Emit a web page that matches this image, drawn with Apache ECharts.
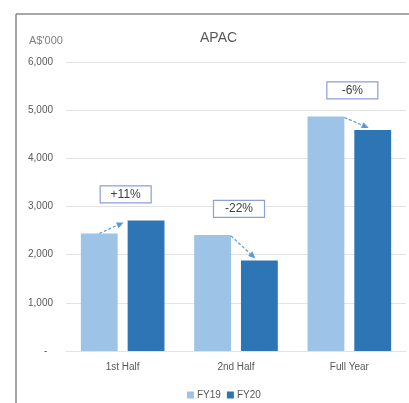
<!DOCTYPE html>
<html>
<head>
<meta charset="utf-8">
<script src="https://cdn.jsdelivr.net/npm/echarts@6/dist/echarts.min.js"></script>
<style>
  html, body { margin: 0; padding: 0; background: #ffffff; }
  #chart { width: 409px; height: 403px; }
</style>
</head>
<body>
<div id="chart"></div>
<script>
// Periods on the category axis
var periods = ['1st Half', '2nd Half', 'Full Year'];
// Revenue in A$'000
var fy19 = [2440, 2410, 4870];
var fy20 = [2710, 1880, 4590];
// Value axis tick range
var yTicks = [0, 1000, 2000, 3000, 4000, 5000, 6000];

var BAR_PCT = 0.325;
var GAP_PCT = 0.27;
var FONT = 'Liberation Sans, Arial, sans-serif';
var TEXT = '#595959';

function fmtTick(v) {
  if (v === 0) return '-  ';
  return v.toLocaleString('en-US');
}

function pctChange(a, b) {
  var p = Math.round((b / a - 1) * 100);
  return (p > 0 ? '+' : '') + p + '%';
}

// Dashed change arrows and percentage boxes, placed from the bar scale
function renderChange(params, api) {
  var idx = api.value(0);
  var a = api.value(1);
  var b = api.value(2);
  var catW = api.size([1, 0])[0];
  var barW = catW * BAR_PCT;
  var gap = barW * GAP_PCT;
  var off = (barW + gap) / 2;
  var pA = api.coord([idx, a]);
  var pB = api.coord([idx, b]);
  var xA = pA[0] - off, xB = pB[0] + off;
  var sx, sy, ex, ey;
  if (b >= a) {
    sx = xA; sy = pA[1];
    ex = xB - barW / 2 - 4; ey = pB[1] + 2;
  } else {
    sx = xA + barW / 2; sy = pA[1] + 1;
    ex = xB - 4; ey = pB[1] - 2;
  }
  var ang = Math.atan2(ey - sy, ex - sx);
  var hl = 7, hw = 3.2;
  var bx = ex - hl * Math.cos(ang), by = ey - hl * Math.sin(ang);
  var nx = -Math.sin(ang) * hw, ny = Math.cos(ang) * hw;
  var top = Math.min(pA[1], pB[1]);
  var cx = pA[0] + 3, cy = top - 26;
  var bw = 51, bh = 17;
  var color = '#5b9bd5';
  return {
    type: 'group',
    children: [
      {
        type: 'line',
        shape: { x1: sx, y1: sy, x2: bx, y2: by },
        style: { stroke: color, lineWidth: 1.2, lineDash: [3, 2] }
      },
      {
        type: 'polygon',
        shape: { points: [[ex, ey], [bx + nx, by + ny], [bx - nx, by - ny]] },
        style: { fill: color }
      },
      {
        type: 'rect',
        shape: { x: cx - bw / 2, y: cy - bh / 2, width: bw, height: bh },
        style: { fill: '#ffffff', stroke: '#8c9fd8', lineWidth: 1.2 }
      },
      {
        type: 'text',
        style: {
          x: cx, y: cy,
          text: pctChange(a, b),
          align: 'center', verticalAlign: 'middle',
          fontFamily: FONT, fontSize: 12, fill: '#404040'
        }
      }
    ]
  };
}

var changeData = periods.map(function (p, i) { return [i, fy19[i], fy20[i]]; });

var chart = echarts.init(document.getElementById('chart'), null, { renderer: 'canvas' });
chart.setOption({
  backgroundColor: '#ffffff',
  animation: false,
  title: [
    {
      text: 'APAC', left: 195, top: 26,
      textStyle: { fontFamily: FONT, fontSize: 14, fontWeight: 'normal', color: TEXT }
    },
    {
      text: "A$'000", left: 24, top: 30,
      textStyle: { fontFamily: FONT, fontSize: 11, fontWeight: 'normal', color: '#7f7f7f' }
    }
  ],
  graphic: [
    { type: 'line', shape: { x1: 16, y1: 14, x2: 409, y2: 14 }, style: { stroke: '#8a8a8a', lineWidth: 1.5 } },
    { type: 'line', shape: { x1: 16, y1: 14, x2: 16, y2: 403 }, style: { stroke: '#8a8a8a', lineWidth: 1.5 } }
  ],
  grid: { left: 66, right: 3, top: 62, bottom: 52, containLabel: false },
  legend: {
    data: ['FY19', 'FY20'],
    top: 385, left: 182,
    itemWidth: 7, itemHeight: 7, itemGap: 6,
    icon: 'rect',
    textStyle: { fontFamily: FONT, fontSize: 10, color: TEXT, padding: [0, 0, 0, -2] }
  },
  xAxis: {
    type: 'category',
    data: periods,
    axisTick: { show: false },
    axisLine: { show: true, lineStyle: { color: '#e3e3e3' } },
    axisLabel: { fontFamily: FONT, fontSize: 10, color: TEXT, margin: 11 }
  },
  yAxis: {
    type: 'value',
    min: yTicks[0], max: yTicks[yTicks.length - 1], interval: yTicks[1] - yTicks[0],
    axisLine: { show: false },
    axisTick: { show: false },
    splitLine: { lineStyle: { color: '#e3e3e3' } },
    axisLabel: { fontFamily: FONT, fontSize: 10, color: TEXT, margin: 13, formatter: fmtTick }
  },
  series: [
    {
      name: 'FY19', type: 'bar', data: fy19,
      barWidth: (BAR_PCT * 100) + '%', barGap: (GAP_PCT * 100) + '%',
      itemStyle: { color: '#9dc3e6' }
    },
    {
      name: 'FY20', type: 'bar', data: fy20,
      barWidth: (BAR_PCT * 100) + '%', barGap: (GAP_PCT * 100) + '%',
      itemStyle: { color: '#2e75b6' }
    },
    {
      name: 'change', type: 'custom', data: changeData,
      encode: { x: 0, y: [1, 2] },
      renderItem: renderChange, silent: true, z: 10
    }
  ]
});
</script>
</body>
</html>
